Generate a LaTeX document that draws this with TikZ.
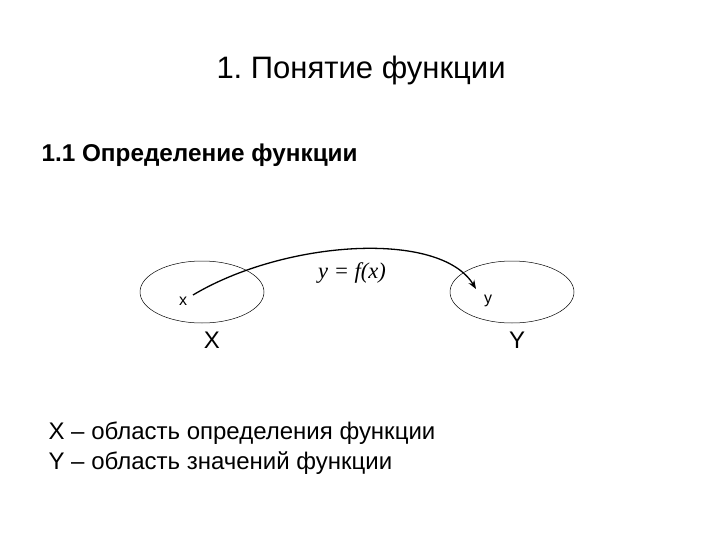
\documentclass[tikz,border=0pt]{standalone}
\usepackage{fontspec}
\setmainfont{Liberation Sans}
\newfontfamily\seriffont{Liberation Serif}
\usepackage{tikz}
\usetikzlibrary{shapes,arrows.meta,positioning,calc}
\frenchspacing

\begin{document}
\begin{tikzpicture}[x=1pt, y=-1pt, -, >=Stealth, line width=0.5pt]
	\useasboundingbox (0,0) rectangle (720,540);
	
	\node (title) at (361,70) {\fontsize{31}{36}\selectfont 1. Понятие функции};
	\node [anchor=west] (sub) at (38,155) {\fontsize{24.3}{28}\selectfont\bfseries 1.1 Определение функции};
	
	\node [ellipse, draw, minimum width=124pt, minimum height=62pt, inner sep=0pt] (setX) at (202,292) {};
	\node [ellipse, draw, minimum width=124pt, minimum height=62pt, inner sep=0pt] (setY) at (512,292) {};
	
	\node (x) at (183,301) {\fontsize{16}{19}\selectfont x};
	\node (y) at (488,301) {\fontsize{16}{19}\selectfont y};
	\node (bigX) at (212,340) {\fontsize{24}{28}\selectfont X};
	\node (bigY) at (517,340) {\fontsize{24}{28}\selectfont Y};
	
	\coordinate (from) at (193,295);
	\coordinate (to) at (476,289);
	\draw [->, line width=1.3pt] (from) .. controls (285,240) and (440,230) .. (to);
	\node (map) at (352,273) {\fontsize{22.5}{26}\selectfont\seriffont\itshape y = f(x)};
	
	\node [anchor=west] (defX) at (45,433) {\fontsize{24}{28}\selectfont X – область определения функции};
	\node [anchor=west] (defY) at (45,463) {\fontsize{24}{28}\selectfont Y – область значений функции};
\end{tikzpicture}
\end{document}
